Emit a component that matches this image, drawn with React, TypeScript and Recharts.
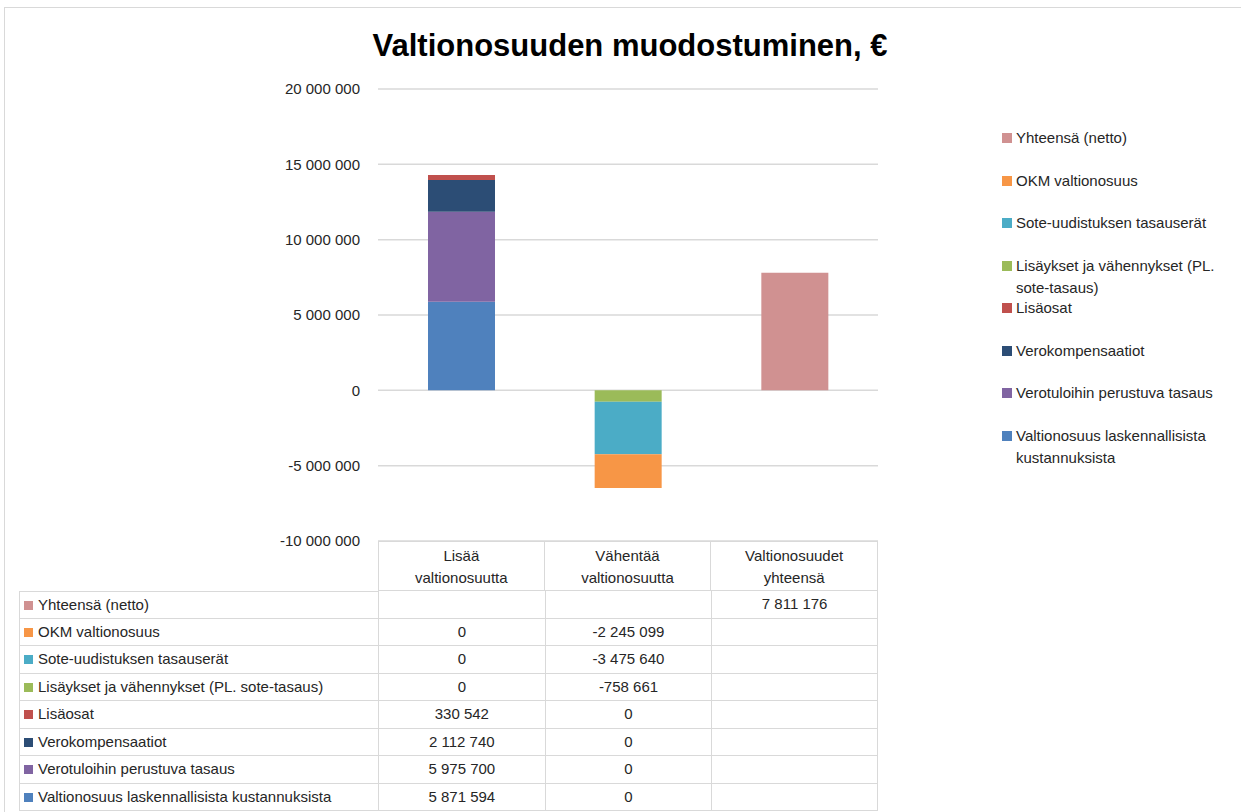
import { BarChart, Bar, XAxis, YAxis, CartesianGrid, Legend } from "recharts";

const categories = ["Lisää valtionosuutta", "Vähentää valtionosuutta", "Valtionosuudet yhteensä"];

// stack order, bottom up (negatives stack downward in the same order)
const seriesNames = [
  "Valtionosuus laskennallisista kustannuksista",
  "Verotuloihin perustuva tasaus",
  "Verokompensaatiot",
  "Lisäosat",
  "Lisäykset ja vähennykset (PL. sote-tasaus)",
  "Sote-uudistuksen tasauserät",
  "OKM valtionosuus",
  "Yhteensä (netto)",
];
const seriesColors = ["#4F81BD", "#8064A2", "#2C4D75", "#C0504D", "#9BBB59", "#4BACC6", "#F79646", "#D09191"];

const valtionosuus = [5871594, 0, null];
const verotulot = [5975700, 0, null];
const verokompensaatiot = [2112740, 0, null];
const lisaosat = [330542, 0, null];
const lisaykset = [0, -758661, null];
const sote = [0, -3475640, null];
const okm = [0, -2245099, null];
const yhteensa = [null, null, 7811176];

const seriesValues = [valtionosuus, verotulot, verokompensaatiot, lisaosat, lisaykset, sote, okm, yhteensa];

const yTicks = [-10000000, -5000000, 0, 5000000, 10000000, 15000000, 20000000];

const data = categories.map((cat, i) => {
  const row: Record<string, any> = { cat };
  seriesNames.forEach((name, s) => {
    row[name] = seriesValues[s][i];
  });
  return row;
});

const fmt = (v: number | null) => {
  if (v === null || v === undefined) return "";
  const s = String(Math.abs(v)).replace(/\B(?=(\d{3})+(?!\d))/g, " ");
  return v < 0 ? "-" + s : s;
};

const FONT = '"Liberation Sans", Arial, sans-serif';
const TEXT = "#262626";
const LINE = "#d9d9d9";

// plot area
const PL = 378;
const PR = 878;
const PT = 89;
const PB = 541;
const COLW = (PR - PL) / 3;
const ROWH = 27.5;
const HEAD = 50;

function LegendBox(props: any) {
  const items = [...(props.payload || [])].sort(
    (a: any, b: any) => seriesNames.indexOf(b.value) - seriesNames.indexOf(a.value)
  );
  return (
    <div style={{ position: "relative", width: 240, height: 360, fontFamily: FONT, fontSize: 15, color: TEXT }}>
      {items.map((it: any, i: number) => (
        <div key={it.value} style={{ position: "absolute", top: i * 42.5, left: 0, width: 240 }}>
          <span
            style={{ position: "absolute", left: 2, top: 6, width: 10, height: 10, background: it.color }}
          />
          <div style={{ marginLeft: 16, lineHeight: "22px", width: 224, textAlign: "left" }}>{it.value}</div>
        </div>
      ))}
    </div>
  );
}

export default function App() {
  const tableRows = [...seriesNames.keys()].reverse();
  return (
    <div
      style={{
        position: "absolute",
        left: 0,
        top: 0,
        width: 1241,
        height: 812,
        background: "#fff",
        overflow: "hidden",
        fontFamily: FONT,
        color: TEXT,
      }}
    >
      <div
        style={{
          position: "absolute",
          left: 4,
          top: 7,
          width: 1300,
          height: 900,
          borderLeft: `1px solid ${LINE}`,
          borderTop: `1px solid ${LINE}`,
        }}
      />
      <div
        style={{
          position: "absolute",
          left: 330,
          top: 26,
          width: 600,
          textAlign: "center",
          fontSize: 31,
          fontWeight: 700,
          color: "#000",
          lineHeight: "40px",
        }}
      >
        Valtionosuuden muodostuminen, €
      </div>

      <div style={{ position: "absolute", left: 0, top: 0 }}>
        <BarChart
          width={1241}
          height={812}
          data={data}
          stackOffset="sign"
          barCategoryGap="30%"
          margin={{ top: PT, right: 1241 - PR, bottom: 812 - PB, left: PL - 80 }}
        >
          <CartesianGrid vertical={false} stroke={LINE} strokeWidth={1.5} />
          <XAxis dataKey="cat" hide />
          <YAxis
            width={80}
            domain={[-10000000, 20000000]}
            ticks={yTicks}
            tickFormatter={(v) => fmt(v)}
            axisLine={false}
            tickLine={false}
            tickMargin={12}
            interval={0}
            tick={{ fill: TEXT, fontSize: 15, fontFamily: FONT }}
          />
          <Legend
            layout="vertical"
            verticalAlign="middle"
            align="center"
            content={<LegendBox />}
            wrapperStyle={{ left: 1000, top: 127, width: 240, height: 360 }}
          />
          {seriesNames.map((name, s) => (
            <Bar key={name} dataKey={name} stackId="a" fill={seriesColors[s]} isAnimationActive={false} />
          ))}
        </BarChart>
      </div>

      {/* data table */}
      <div style={{ position: "absolute", left: 0, top: 0, fontSize: 15 }}>
        {categories.map((cat, c) => (
          <div
            key={cat}
            style={{
              position: "absolute",
              left: PL + c * COLW,
              top: PB,
              width: COLW,
              height: HEAD,
              boxSizing: "border-box",
              border: `1px solid ${LINE}`,
              borderLeftWidth: c === 0 ? 1 : 0,
              textAlign: "center",
              lineHeight: "22px",
              paddingTop: 3,
            }}
          >
            {cat.split(" ").map((w) => (
              <div key={w}>{w}</div>
            ))}
          </div>
        ))}
        {tableRows.map((s, r) => (
          <div key={seriesNames[s]}>
            <div
              style={{
                position: "absolute",
                left: 19,
                top: PB + HEAD + r * ROWH,
                width: PL - 19,
                height: ROWH,
                boxSizing: "border-box",
                borderLeft: `1px solid ${LINE}`,
                borderBottom: `1px solid ${LINE}`,
                borderTop: r === 0 ? `1px solid ${LINE}` : "none",
                lineHeight: `${ROWH - 1}px`,
                whiteSpace: "nowrap",
              }}
            >
              <span
                style={{
                  display: "inline-block",
                  width: 9,
                  height: 9,
                  background: seriesColors[s],
                  marginLeft: 4,
                  marginRight: 5,
                }}
              />
              {seriesNames[s]}
            </div>
            {categories.map((cat, c) => (
              <div
                key={cat}
                style={{
                  position: "absolute",
                  left: PL + c * COLW,
                  top: PB + HEAD + r * ROWH,
                  width: COLW,
                  height: ROWH,
                  boxSizing: "border-box",
                  borderLeft: `1px solid ${LINE}`,
                  borderRight: c === 2 ? `1px solid ${LINE}` : "none",
                  borderBottom: `1px solid ${LINE}`,
                  textAlign: "center",
                  lineHeight: `${ROWH - 1}px`,
                }}
              >
                {fmt(seriesValues[s][c])}
              </div>
            ))}
          </div>
        ))}
      </div>
    </div>
  );
}
